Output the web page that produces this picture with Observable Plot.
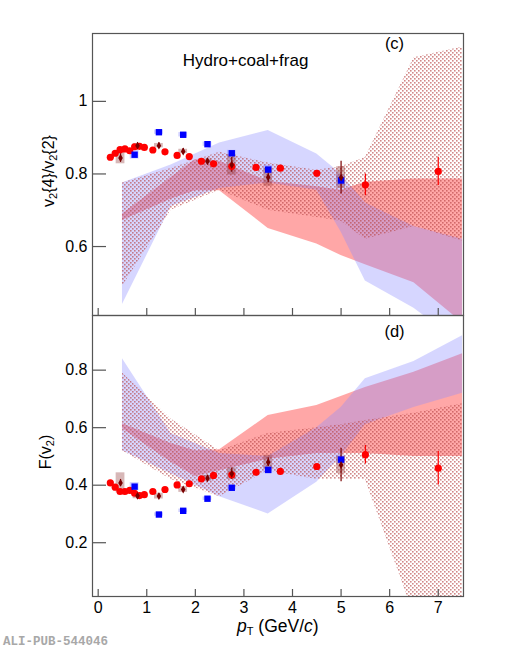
<!DOCTYPE html>
<html>
<head>
<meta charset="utf-8">
<script src="https://cdn.jsdelivr.net/npm/d3@7"></script>
<script src="https://cdn.jsdelivr.net/npm/@observablehq/plot@0.6"></script>
<style>
  body { margin:0; background:#fff; }
  #page { position:relative; width:518px; height:650px; overflow:hidden; background:#fff; font-family:"Liberation Sans", Arial, sans-serif; }
  .lbl { position:absolute; white-space:nowrap; font-size:16px; color:#000; line-height:1; }
  .rot { transform: translate(-50%,-50%) rotate(-90deg); }
  sub { font-size:11px; vertical-align:-3px; line-height:0; }
  #cap { position:absolute; left:3px; top:636px; line-height:1; font-family:"Liberation Mono", "DejaVu Sans Mono", monospace; font-weight:bold; font-size:12.5px; color:#a8a8a8; }
</style>
</head>
<body>
<div id="page">
  <svg width="0" height="0" style="position:absolute">
    <defs>
      <pattern id="dots" width="4" height="4" patternUnits="userSpaceOnUse">
        <rect x="0" y="0" width="1.6" height="1.6" fill="#b84848" fill-opacity="0.65"/>
        <rect x="2" y="2" width="1.6" height="1.6" fill="#b84848" fill-opacity="0.65"/>
      </pattern>
    </defs>
  </svg>
  <div id="top" style="position:absolute;left:0;top:0"></div>
  <div id="bot" style="position:absolute;left:0;top:315px"></div>
  <div class="lbl rot" style="left:49px;top:171px">v<sub>2</sub>{4}/v<sub>2</sub>{2}</div>
  <div class="lbl rot" style="left:46px;top:452px">F(v<sub>2</sub>)</div>
  <div class="lbl" style="left:237px;top:618px;font-size:17.5px;line-height:1"><i>p</i><sub>T</sub> (GeV/<i>c</i>)</div>
  <div id="cap">ALI-PUB-544046</div>
</div>
<script>
// ---------- data: pions (red circles) ----------
const pionPt   = [0.25,0.35,0.45,0.55,0.65,0.75,0.85,0.95,1.125,1.375,1.625,1.875,2.125,2.375,2.75,3.25,3.75,4.5,5.5,7.0];
const pionR    = [0.846,0.857,0.867,0.869,0.864,0.875,0.876,0.873,0.866,0.861,0.851,0.848,0.835,0.828,0.821,0.818,0.816,0.802,0.770,0.807];
const pionRErr = [0,0,0,0,0,0,0,0,0,0,0,0,0,0,0.012,0,0,0.006,0.030,0.039];
const pionF    = [0.408,0.393,0.378,0.378,0.382,0.372,0.364,0.367,0.378,0.385,0.401,0.405,0.422,0.434,0.436,0.445,0.448,0.465,0.506,0.459];
const pionFErr = [0,0,0,0,0,0,0,0,0,0,0,0,0,0,0.012,0,0,0.006,0.032,0.058];

// ---------- data: kaons (blue squares) ----------
const kaonPt   = [0.75,1.25,1.75,2.25,2.75,3.5,5.0];
const kaonR    = [0.853,0.915,0.908,0.882,0.857,0.812,0.782];
const kaonRSys = [0.012,0.006,0.006,0.006,0.008,0.012,0.015];
const kaonF    = [0.395,0.298,0.311,0.353,0.391,0.453,0.489];
const kaonFSys = [0.014,0.006,0.006,0.006,0.008,0.012,0.015];

// ---------- data: protons (dark red diamonds) ----------
const protonPt   = [0.46,0.81,1.25,1.75,2.25,2.75,3.5,5.0];
const protonR    = [0.844,0.878,0.878,0.862,0.835,0.825,0.791,0.790];
const protonRErr = [0.012,0.008,0.008,0.008,0.008,0.020,0.015,0.045];
const protonRSys = [0.016,0.006,0.006,0.006,0.006,0.028,0.025,0.030];
const protonF    = [0.408,0.363,0.362,0.385,0.424,0.440,0.480,0.470];
const protonFErr = [0.012,0.008,0.008,0.008,0.008,0.020,0.015,0.058];
const protonFSys = [0.035,0.010,0.010,0.010,0.010,0.020,0.024,0.030];

// ---------- model bands, panel (c) ----------
const blueX_R   = [0.5,1.5,2.5,3.5,4.5,5.0,5.5,6.5,7.5];
const blueHi_R  = [0.775,0.825,0.885,0.92,0.855,0.80,0.72,0.655,0.62];
const blueLo_R  = [0.44,0.71,0.76,0.775,0.755,0.64,0.505,0.43,0.33];
const redX_R    = [0.5,1.5,2.0,2.5,3.5,4.5,5.0,5.5,6.5,7.5];
const redHi_R   = [0.69,0.79,0.84,0.835,0.78,0.765,0.755,0.777,0.786,0.786];
const redLo_R   = [0.672,0.73,0.754,0.754,0.65,0.607,0.575,0.55,0.50,0.39];
const dotX_R    = [0.5,1.5,2.5,3.5,4.5,5.0,5.5,6.5,7.5];
const dotHi_R   = [0.775,0.815,0.86,0.83,0.81,0.82,0.845,1.12,1.15];
const dotLo_R   = [0.49,0.70,0.755,0.70,0.68,0.67,0.62,0.655,0.615];

// ---------- model bands, panel (d) ----------
const blueX_F   = [0.5,1.5,2.5,3.5,4.5,5.0,5.5,6.5,7.5];
const blueHi_F  = [0.84,0.58,0.51,0.50,0.60,0.67,0.77,0.83,0.92];
const blueLo_F  = [0.52,0.44,0.36,0.30,0.41,0.50,0.61,0.67,0.72];
const redX_F    = [0.5,1.5,2.0,2.5,3.5,4.5,5.5,6.5,7.5];
const redHi_F   = [0.614,0.545,0.52,0.523,0.642,0.677,0.74,0.793,0.857];
const redLo_F   = [0.596,0.48,0.43,0.45,0.49,0.51,0.51,0.50,0.50];
const dotX_F    = [0.5,1.5,2.5,3.5,4.5,5.0,5.5,6.5,7.5];
const dotHi_F   = [0.79,0.63,0.52,0.58,0.60,0.61,0.625,0.65,0.683];
const dotLo_F   = [0.52,0.42,0.36,0.45,0.42,0.42,0.42,-0.05,-0.5];

const xTicks = [0,1,2,3,4,5,6,7];
const xDomain = [-0.117, 7.52];

const band = (X, Hi, Lo) => X.map((x, i) => ({x, hi: Hi[i], lo: Lo[i]}));
const pts = (X, Y, E, S) => X.map((x, i) => ({x, y: Y[i], e: E ? E[i] : 0, s: S ? S[i] : 0}));

function panel({yDomain, yTicks, height, marginTop, marginBottom, blue, red, dot, pion, kaon, proton, showX, label, tag}) {
  const plotH = height - marginTop - marginBottom;
  const pxX = (xDomain[1] - xDomain[0]) / (463 - 92);
  const pxY = (yDomain[1] - yDomain[0]) / plotH;
  const yTickLen = 14 * pxX, xTickLen = 7 * pxY;
  const axisColor = "#555";
  const marks = [
    Plot.areaY(red,  {x: "x", y1: "lo", y2: "hi", fill: "#ff5050", fillOpacity: 0.5, clip: true}),
    Plot.areaY(blue, {x: "x", y1: "lo", y2: "hi", fill: "#8c8cff", fillOpacity: 0.36, clip: true}),
    Plot.areaY(dot,  {x: "x", y1: "lo", y2: "hi", fill: "url(#dots)", clip: true}),
    // systematic boxes
    Plot.rect(kaon,   {x1: d => d.x - 0.09, x2: d => d.x + 0.09, y1: d => d.y - d.s, y2: d => d.y + d.s, fill: "#7878ff", fillOpacity: 0.35}),
    Plot.rect(proton, {x1: d => d.x - 0.09, x2: d => d.x + 0.09, y1: d => d.y - d.s, y2: d => d.y + d.s, fill: "#8c3232", fillOpacity: 0.35}),
    // error bars
    Plot.ruleX(pion.filter(d => d.e > 0),   {x: "x", y1: d => d.y - d.e, y2: d => d.y + d.e, stroke: "#ff0000", strokeWidth: 1.2}),
    Plot.ruleX(proton.filter(d => d.e > 0), {x: "x", y1: d => d.y - d.e, y2: d => d.y + d.e, stroke: "#7a0000", strokeWidth: 1.2}),
    // markers
    Plot.dot(pion,   {x: "x", y: "y", r: 3.6, fill: "#ff0000", stroke: "none"}),
    Plot.dot(kaon,   {x: "x", y: "y", symbol: "square", r: 3.6, fill: "#0000ff", stroke: "none"}),
    Plot.dot(proton, {x: "x", y: "y", symbol: "diamond", r: 2.4, fill: "#7a0000", stroke: "none"}),
    // frame & inward ticks
    Plot.frame({stroke: axisColor, strokeWidth: 1.2}),
    Plot.ruleY(yTicks, {x1: xDomain[0], x2: xDomain[0] + yTickLen, stroke: axisColor, strokeWidth: 1.2}),
    Plot.ruleX(xTicks, {y1: yDomain[0], y2: yDomain[0] + xTickLen, stroke: axisColor, strokeWidth: 1.2}),
    Plot.text([tag], {frameAnchor: "top-left", dx: 302, dy: marginTop === 0 ? 10 : 4, lineAnchor: "top", textAnchor: "middle", fontSize: 16.5})
  ];
  if (label) marks.push(Plot.text([label], {frameAnchor: "top-left", dx: 153, dy: 20, lineAnchor: "top", textAnchor: "middle", fontSize: 17}));
  return Plot.plot({
    width: 518, height, marginLeft: 92, marginRight: 55, marginTop, marginBottom,
    style: {fontSize: "16px", fontFamily: '"Liberation Sans", Arial, sans-serif', color: "#000", background: "transparent", overflow: "visible"},
    x: {domain: xDomain, ticks: xTicks, tickSize: 0, tickPadding: 5, tickFormat: d => String(d), label: null, axis: showX ? "bottom" : null},
    y: {domain: yDomain, ticks: yTicks, tickSize: 0, tickPadding: 5, tickFormat: d => String(d), label: null},
    marks
  });
}

document.getElementById("top").append(panel({
  yDomain: [0.41, 1.187], yTicks: [0.6, 0.8, 1], height: 315, marginTop: 33, marginBottom: 0,
  blue: band(blueX_R, blueHi_R, blueLo_R), red: band(redX_R, redHi_R, redLo_R), dot: band(dotX_R, dotHi_R, dotLo_R),
  pion: pts(pionPt, pionR, pionRErr), kaon: pts(kaonPt, kaonR, null, kaonRSys), proton: pts(protonPt, protonR, protonRErr, protonRSys),
  showX: false, label: "Hydro+coal+frag", tag: "(c)"
}));
document.getElementById("bot").append(panel({
  yDomain: [0.013, 0.99], yTicks: [0.2, 0.4, 0.6, 0.8], height: 335, marginTop: 0, marginBottom: 54,
  blue: band(blueX_F, blueHi_F, blueLo_F), red: band(redX_F, redHi_F, redLo_F), dot: band(dotX_F, dotHi_F, dotLo_F),
  pion: pts(pionPt, pionF, pionFErr), kaon: pts(kaonPt, kaonF, null, kaonFSys), proton: pts(protonPt, protonF, protonFErr, protonFSys),
  showX: true, label: null, tag: "(d)"
}));
</script>
</body>
</html>
